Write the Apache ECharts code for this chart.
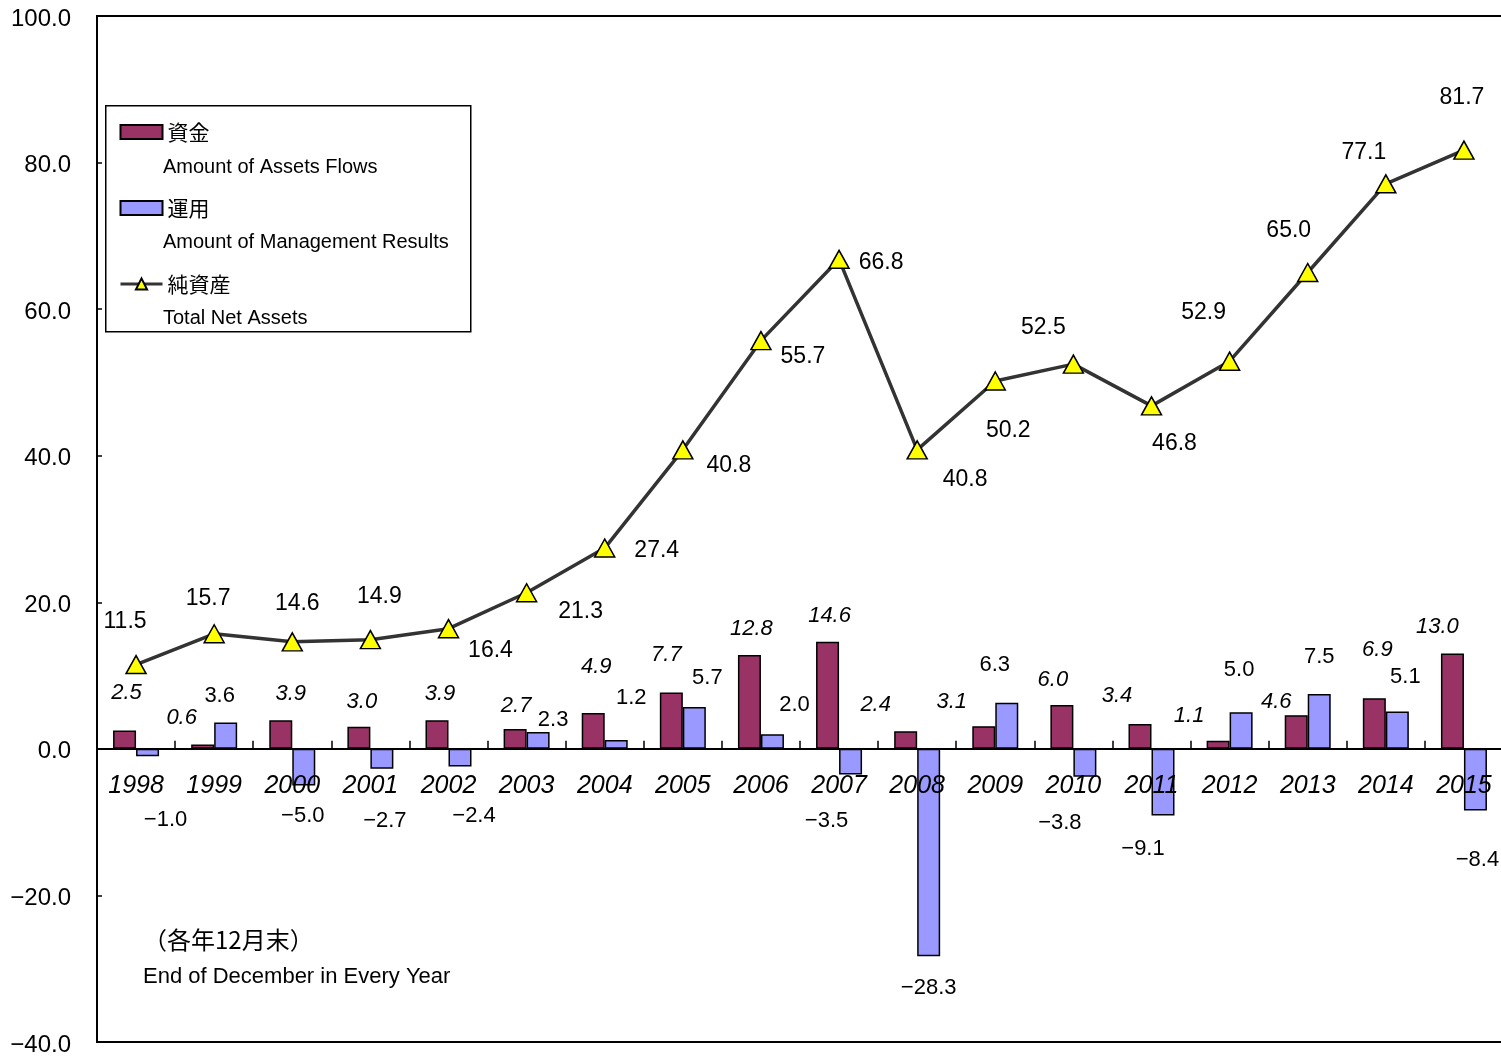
<!DOCTYPE html>
<html><head><meta charset="utf-8">
<script src="https://cdn.jsdelivr.net/npm/echarts@6/dist/echarts.min.js"></script>
<style>html,body{margin:0;padding:0;background:#fff}#c{width:1501px;height:1061px}</style>
</head><body><div id="c"></div>
<script>
const years = ['1998','1999','2000','2001','2002','2003','2004','2005','2006','2007','2008','2009','2010','2011','2012','2013','2014','2015'];
const funds = [2.5,0.6,3.9,3.0,3.9,2.7,4.9,7.7,12.8,14.6,2.4,3.1,6.0,3.4,1.1,4.6,6.9,13.0];
const mgmt = [-1.0,3.6,-5.0,-2.7,-2.4,2.3,1.2,5.7,2.0,-3.5,-28.3,6.3,-3.8,-9.1,5.0,7.5,5.1,-8.4];
const netAssets = [11.5,15.7,14.6,14.9,16.4,21.3,27.4,40.8,55.7,66.8,40.8,50.2,52.5,46.8,52.9,65.0,77.1,81.7];
const yTicks = [-40,-20,0,20,40,60,80,100];

// label placement (style only)
const fundOff = [[2,-27],[-21,-16],[10,-15],[3,-14],[3,-15],[1,-12],[3,-35],[-5,-27],[2,-15],[2,-15],[-30,-15],[-32,-13],[-9,-14],[-23,-17],[-29,-14],[-20,-2],[3,-37],[-15,-16]];
const mgmtOff = [[18,53],[-6,-16],[-1,19],[3,41],[14,38],[15,-1],[15,-31],[13,-18],[22,-18],[-24,35],[0,21],[-12,-27],[-25,35],[-20,22],[-2,-31],[0,-26],[8,-24],[2,39]];
const lineOff = [[-11,-43],[-6,-35],[5,-38],[9,-43],[42,22],[54,19],[52,3],[46,16],[42,16],[42,3],[48,30],[13,50],[-30,-36],[23,38],[-26,-49],[-19,-42],[-22,-31],[-2,-52]];

const NUM = "'Liberation Sans','Noto Sans CJK JP',sans-serif";
const JP = "'Noto Sans CJK JP',sans-serif";
const GRID_TOP = 16, GRID_BOTTOM = 19, PLOT_H = 1061 - GRID_TOP - GRID_BOTTOM;
const Y_MIN = -40, Y_MAX = 100;
// distance from grid bottom up to the zero line (for placing year labels beside the zero axis)
const zeroOffset = -PLOT_H * (0 - Y_MIN) / (Y_MAX - Y_MIN);

const chart = echarts.init(document.getElementById('c'), null, {renderer:'canvas'});
chart.setOption({
  animation:false,
  backgroundColor:'#fff',
  grid:{left:97,right:-2,top:GRID_TOP,bottom:GRID_BOTTOM,show:true,borderColor:'#000',borderWidth:2,containLabel:false,outerBoundsMode:'none'},
  legend:{
    left:114, top:116, orient:'vertical', itemGap:54, itemWidth:42, itemHeight:14,
    textStyle:{fontFamily:JP,fontSize:21,color:'#000',lineHeight:22},
    data:[{name:'資金',icon:'rect'},{name:'運用',icon:'rect'},{name:'純資産',lineStyle:{width:3,color:'#333'}}]
  },
  xAxis:[{
    type:'category', data:years,
    axisLine:{onZero:true,lineStyle:{color:'#000',width:2}},
    axisTick:{show:true,inside:true,length:8,alignWithLabel:false,lineStyle:{color:'#000',width:1.5}},
    axisLabel:{show:false},
    splitLine:{show:false}
  },{
    type:'category', data:years, position:'bottom', offset:zeroOffset, z:10,
    axisLine:{show:false,onZero:false}, axisTick:{show:false},
    axisLabel:{interval:0,margin:25,fontFamily:NUM,fontSize:25,fontStyle:'italic',color:'#000'},
    splitLine:{show:false}
  }],
  yAxis:{
    type:'value', min:Y_MIN, max:Y_MAX, interval:20,
    axisLine:{show:true,lineStyle:{color:'#000',width:2}},
    axisTick:{show:true,inside:true,length:5,lineStyle:{color:'#000',width:1.5}},
    axisLabel:{margin:26,verticalAlign:'top',lineHeight:24,padding:[-9,0,0,0],fontFamily:NUM,fontSize:24,color:'#000',formatter:v=>v.toFixed(1).replace('-','−')},
    splitLine:{show:false}
  },
  series:[
    {
      name:'資金', type:'bar', barWidth:23, barGap:'0%',
      itemStyle:{color:'#993366',borderColor:'#000',borderWidth:1.5},
      data:funds.map((v,i)=>({value:v,label:{position:'top',distance:0,offset:fundOff[i]}})),
      label:{show:true,fontFamily:NUM,fontSize:22,fontStyle:'italic',color:'#000',formatter:p=>p.value.toFixed(1)},
      z:2
    },
    {
      name:'運用', type:'bar', barWidth:23, barGap:'0%',
      itemStyle:{color:'#9999FF',borderColor:'#000',borderWidth:1.5},
      data:mgmt.map((v,i)=>({value:v,label:{position:v<0?'bottom':'top',distance:0,offset:mgmtOff[i]}})),
      label:{show:true,fontFamily:NUM,fontSize:22,color:'#000',formatter:p=>p.value.toFixed(1).replace('-','−')},
      z:2
    },
    {
      name:'純資産', type:'line', symbol:'triangle', symbolSize:[20,18],
      lineStyle:{color:'#333',width:3.5},
      itemStyle:{color:'#FFFF00',borderColor:'#000',borderWidth:1.5},
      data:netAssets.map((v,i)=>({value:v,label:{position:'inside',offset:lineOff[i]}})),
      label:{show:true,fontFamily:NUM,fontSize:23,color:'#000',formatter:p=>p.value.toFixed(1)},
      z:5
    }
  ],
  graphic:[
    {type:'rect',left:105,top:105,shape:{width:365,height:226},style:{fill:'rgba(0,0,0,0)',stroke:'#000',lineWidth:1.5},z:0},
    {type:'text',left:163,top:157,style:{text:'Amount of Assets Flows',font:"20px "+NUM,fill:'#000'}},
    {type:'text',left:163,top:232,style:{text:'Amount of Management Results',font:"20px "+NUM,fill:'#000'}},
    {type:'text',left:163,top:308,style:{text:'Total Net Assets',font:"20px "+NUM,fill:'#000'}},
    {type:'text',left:143,top:928,style:{text:'（各年12月末）',font:"24px "+JP,fill:'#000'}},
    {type:'text',left:143,top:966,style:{text:'End of December in Every Year',font:"22px "+NUM,fill:'#000'}}
  ]
});
</script></body></html>
